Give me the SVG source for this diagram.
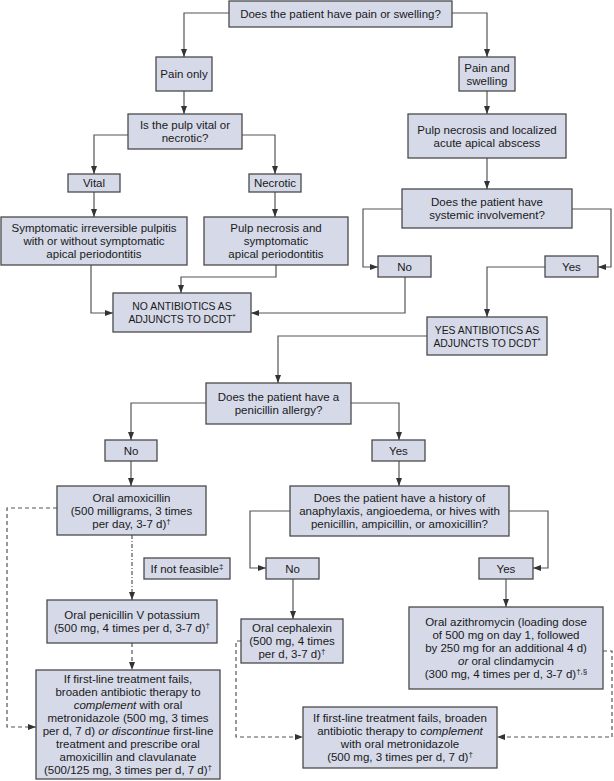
<svg xmlns="http://www.w3.org/2000/svg" width="614" height="781" viewBox="0 0 614 781">
<style>
.b{fill:#d5d9e8;stroke:#4a4a4a;stroke-width:1.3}
.t{font-family:"Liberation Sans",Arial,sans-serif;font-size:11.5px;fill:#1a1a1a;text-anchor:middle}
.u{font-size:10.4px}
.c{fill:none;stroke:#555;stroke-width:1.2;marker-end:url(#a)}
.d{stroke-dasharray:4 3}
.dd{stroke-dasharray:4 2 1 2}
.s{font-size:8px}
.i{font-style:italic}
</style>
<defs>
<marker id="a" markerWidth="8" markerHeight="6" refX="8" refY="3" orient="auto" markerUnits="userSpaceOnUse">
<path d="M0,0 L8,3 L0,6 z" fill="#333"/>
</marker>
</defs>
<rect width="614" height="781" fill="#fff"/>
<g id="connectors">
<path class="c" d="M229,13 H184 V57"/>
<path class="c" d="M452,13 H487 V57"/>
<path class="c" d="M184,91 V114"/>
<path class="c" d="M487,91 V114"/>
<path class="c" d="M128,135 H94 V174"/>
<path class="c" d="M242,135 H275 V174"/>
<path class="c" d="M94,192 V217"/>
<path class="c" d="M275,192 V217"/>
<path class="c" d="M487,158 V189"/>
<path class="c" d="M402,209 H363 V267 H378"/>
<path class="c" d="M572,209 H611 V267 H598"/>
<path class="c" d="M91,265 V313 H113"/>
<path class="c" d="M276,265 V277 H181 V293"/>
<path class="c" d="M405,277 V313 H251"/>
<path class="c" d="M545,267 H487 V317"/>
<path class="c" d="M427,336 H278 V383"/>
<path class="c" d="M206,403 H131 V440"/>
<path class="c" d="M351,403 H399 V440"/>
<path class="c" d="M131,461 V486"/>
<path class="c" d="M399,461 V486"/>
<path class="c" d="M290,511 H250 V568 H266"/>
<path class="c" d="M509,511 H548 V568 H533"/>
<path class="c dd" d="M132,535 V600"/>
<path class="c d" d="M132,643 V670"/>
<path class="c d" d="M57,508 H7 V727 H36"/>
<path class="c" d="M293,579 V619"/>
<path class="c" d="M506,579 V607"/>
<path class="c d" d="M241,641 H236 V737 H303"/>
<path class="c d" d="M603,651 H612 V737 H497"/>
</g>
<g id="q1"><rect class="b" x="229" y="1" width="223" height="26"/><text class="t" x="340.5" y="18">Does the patient have pain or swelling?</text></g>
<g id="painOnly"><rect class="b" x="156" y="57" width="56" height="34"/><text class="t" x="184" y="78">Pain only</text></g>
<g id="painSwelling"><rect class="b" x="459" y="57" width="56" height="34"/><text class="t" x="487" y="71.5">Pain and</text><text class="t" x="487" y="84.5">swelling</text></g>
<g id="q2"><rect class="b" x="128" y="114" width="114" height="35"/><text class="t" x="185" y="129">Is the pulp vital or</text><text class="t" x="185" y="142">necrotic?</text></g>
<g id="pulpAbscess"><rect class="b" x="408" y="114" width="158" height="44"/><text class="t" x="487" y="133.5">Pulp necrosis and localized</text><text class="t" x="487" y="146.5">acute apical abscess</text></g>
<g id="vital"><rect class="b" x="68" y="174" width="52" height="18"/><text class="t" x="94" y="187">Vital</text></g>
<g id="necrotic"><rect class="b" x="249" y="174" width="52" height="18"/><text class="t" x="275" y="187">Necrotic</text></g>
<g id="symptomatic"><rect class="b" x="1" y="217" width="186" height="48"/><text class="t" x="94" y="232">Symptomatic irreversible pulpitis</text><text class="t" x="94" y="245">with or without symptomatic</text><text class="t" x="94" y="258">apical periodontitis</text></g>
<g id="pulpSympt"><rect class="b" x="204" y="217" width="144" height="48"/><text class="t" x="276" y="232">Pulp necrosis and</text><text class="t" x="276" y="245">symptomatic</text><text class="t" x="276" y="258">apical periodontitis</text></g>
<g id="q3"><rect class="b" x="402" y="189" width="170" height="39"/><text class="t" x="487" y="206">Does the patient have</text><text class="t" x="487" y="219">systemic involvement?</text></g>
<g id="no1"><rect class="b" x="378" y="256" width="53" height="21"/><text class="t" x="404.5" y="270.5">No</text></g>
<g id="yes1"><rect class="b" x="545" y="256" width="53" height="21"/><text class="t" x="571.5" y="270.5">Yes</text></g>
<g id="noAntibiotics"><rect class="b" x="113" y="293" width="138" height="39"/><text class="t u" x="182" y="310">NO ANTIBIOTICS AS</text><text class="t u" x="182" y="323">ADJUNCTS TO DCDT<tspan class="s" dy="-4">*</tspan></text></g>
<g id="yesAntibiotics"><rect class="b" x="427" y="317" width="120" height="38"/><text class="t u" x="487" y="333.5">YES ANTIBIOTICS AS</text><text class="t u" x="487" y="346.5">ADJUNCTS TO DCDT<tspan class="s" dy="-4">*</tspan></text></g>
<g id="q4"><rect class="b" x="206" y="383" width="145" height="41"/><text class="t" x="278.5" y="401">Does the patient have a</text><text class="t" x="278.5" y="414">penicillin allergy?</text></g>
<g id="no2"><rect class="b" x="105" y="440" width="52" height="21"/><text class="t" x="131" y="454.5">No</text></g>
<g id="yes2"><rect class="b" x="372" y="440" width="53" height="21"/><text class="t" x="398.5" y="454.5">Yes</text></g>
<g id="amoxicillin"><rect class="b" x="57" y="486" width="149" height="49"/><text class="t" x="131.5" y="501.5">Oral amoxicillin</text><text class="t" x="131.5" y="514.5">(500 milligrams, 3 times</text><text class="t" x="131.5" y="527.5">per day, 3-7 d)<tspan class="s" dy="-4">†</tspan></text></g>
<g id="q5"><rect class="b" x="290" y="486" width="219" height="50"/><text class="t" x="399.5" y="502">Does the patient have a history of</text><text class="t" x="399.5" y="515">anaphylaxis, angioedema, or hives with</text><text class="t" x="399.5" y="528">penicillin, ampicillin, or amoxicillin?</text></g>
<g id="notFeasible"><rect class="b" x="144" y="558" width="86" height="21"/><text class="t" x="187" y="572.5">If not feasible<tspan class="s" dy="-4">‡</tspan></text></g>
<g id="no3"><rect class="b" x="266" y="558" width="53" height="21"/><text class="t" x="292.5" y="572.5">No</text></g>
<g id="yes3"><rect class="b" x="479" y="558" width="54" height="21"/><text class="t" x="506" y="572.5">Yes</text></g>
<g id="penicillinV"><rect class="b" x="47" y="600" width="170" height="43"/><text class="t" x="132" y="619">Oral penicillin V potassium</text><text class="t" x="132" y="632">(500 mg, 4 times per d, 3-7 d)<tspan class="s" dy="-4">†</tspan></text></g>
<g id="cephalexin"><rect class="b" x="241" y="619" width="102" height="44"/><text class="t" x="292" y="632">Oral cephalexin</text><text class="t" x="292" y="645">(500 mg, 4 times</text><text class="t" x="292" y="658">per d, 3-7 d)<tspan class="s" dy="-4">†</tspan></text></g>
<g id="azithromycin"><rect class="b" x="409" y="607" width="194" height="82"/><text class="t" x="506" y="626">Oral azithromycin (loading dose</text><text class="t" x="506" y="639">of 500 mg on day 1, followed</text><text class="t" x="506" y="652">by 250 mg for an additional 4 d)</text><text class="t" x="506" y="665"><tspan class="i">or</tspan> oral clindamycin</text><text class="t" x="506" y="678">(300 mg, 4 times per d, 3-7 d)<tspan class="s" dy="-4">†,§</tspan></text></g>
<g id="failLeft"><rect class="b" x="36" y="670" width="184" height="109"/><text class="t" x="128" y="683">If first-line treatment fails,</text><text class="t" x="128" y="696">broaden antibiotic therapy to</text><text class="t" x="128" y="709"><tspan class="i">complement</tspan> with oral</text><text class="t" x="128" y="722">metronidazole (500 mg, 3 times</text><text class="t" x="128" y="735">per d, 7 d) <tspan class="i">or discontinue</tspan> first-line</text><text class="t" x="128" y="748">treatment and prescribe oral</text><text class="t" x="128" y="761">amoxicillin and clavulanate</text><text class="t" x="128" y="774">(500/125 mg, 3 times per d, 7 d)<tspan class="s" dy="-4">†</tspan></text></g>
<g id="failRight"><rect class="b" x="303" y="707" width="194" height="61"/><text class="t" x="400" y="722">If first-line treatment fails, broaden</text><text class="t" x="400" y="735">antibiotic therapy to <tspan class="i">complement</tspan></text><text class="t" x="400" y="748">with oral metronidazole</text><text class="t" x="400" y="761">(500 mg, 3 times per d, 7 d)<tspan class="s" dy="-4">†</tspan></text></g>
</svg>
